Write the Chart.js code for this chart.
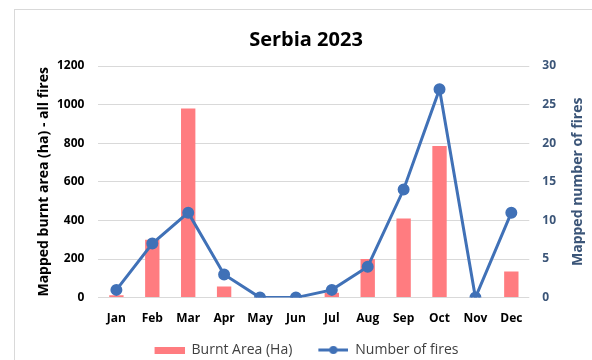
<!DOCTYPE html>
<html>
<head>
<meta charset="utf-8">
<script src="https://cdn.jsdelivr.net/npm/chart.js@4/dist/chart.umd.min.js"></script>
<style>
	html, body { margin: 0; padding: 0; background: #fff; }
	#frame { position: absolute; left: 14px; top: 9px; width: 600px; height: 360px; border: 1px solid #d9d9d9; }
	#wrap { position: absolute; left: 0; top: 0; width: 592px; height: 360px; }
</style>
</head>
<body>
<div id="frame"></div>
<div id="wrap"><canvas id="chart-serbia"></canvas></div>
<script>
// Data
const MONTHS = ["Jan", "Feb", "Mar", "Apr", "May", "Jun", "Jul", "Aug", "Sep", "Oct", "Nov", "Dec"];
const BURNT_AREA = [12, 300, 980, 58, 0, 0, 25, 200, 410, 785, 0, 135];
const FIRES = [1, 7, 11, 3, 0, 0, 1, 4, 14, 27, 0, 11];

const RED = "#ff7c80";
const BLUE = "#4071b7";
const AXIS_BLUE = "#3b5578";
const FONT = "'Open Sans', 'Noto Sans', sans-serif";
const LEFT_TITLE = "Mapped burnt area (ha) - all fires";
const RIGHT_TITLE = "Mapped number of fires";

// Legend swatches (transparent lead-in gives the gap between items)
const SWATCH_W = 53;
const barSwatch = document.createElement("canvas");
barSwatch.width = SWATCH_W;
barSwatch.height = 7;
(() => {
	const c = barSwatch.getContext("2d");
	c.fillStyle = RED;
	c.fillRect(23, 0, 30, 7);
})();

const lineSwatch = document.createElement("canvas");
lineSwatch.width = SWATCH_W;
lineSwatch.height = 10;
(() => {
	const c = lineSwatch.getContext("2d");
	c.strokeStyle = BLUE;
	c.lineWidth = 3;
	c.beginPath();
	c.moveTo(23, 5);
	c.lineTo(53, 5);
	c.stroke();
	c.fillStyle = BLUE;
	c.beginPath();
	c.arc(38, 5, 4, 0, Math.PI * 2);
	c.fill();
})();

// Axis titles, both reading bottom-to-top; legend nudged into place
const axisTitles = {
	id: "axisTitles",
	afterLayout(chart) {
		if (chart.legend) {
			chart.legend.top += 7;
			chart.legend.left -= 11;
			chart.legend.right -= 11;
		}
	},
	afterDraw(chart) {
		const { ctx, chartArea } = chart;
		const midY = (chartArea.top + chartArea.bottom) / 2;
		const draw = (text, x, color) => {
			ctx.save();
			ctx.translate(x, midY);
			ctx.rotate(-Math.PI / 2);
			ctx.fillStyle = color;
			ctx.font = "bold 14px " + FONT;
			ctx.textAlign = "center";
			ctx.textBaseline = "middle";
			ctx.fillText(text, 0, 0);
			ctx.restore();
		};
		draw(LEFT_TITLE, 44, "#000");
		draw(RIGHT_TITLE, 578, AXIS_BLUE);
	},
};

const CHART_DATA = {
	labels: MONTHS,
	datasets: [
		{
			type: "line",
			label: "Number of fires",
			data: FIRES,
			yAxisID: "y1",
			borderColor: BLUE,
			backgroundColor: BLUE,
			borderWidth: 3,
			pointRadius: 4.5,
			pointBackgroundColor: BLUE,
			pointBorderColor: BLUE,
			tension: 0,
			order: 0,
		},
		{
			type: "bar",
			label: "Burnt Area (Ha)",
			data: BURNT_AREA,
			yAxisID: "y",
			backgroundColor: RED,
			barPercentage: 0.4,
			categoryPercentage: 1,
			order: 1,
		},
	],
};

const CHART_CONFIG = {
	data: CHART_DATA,
	plugins: [axisTitles],
	options: {
		responsive: true,
		maintainAspectRatio: false,
		animation: false,
		layout: {
			padding: { left: 43, right: 23, top: 28, bottom: 0 },
		},
		scales: {
			x: {
				border: { display: false },
				grid: { display: false },
				ticks: {
					color: "#000",
					font: { family: FONT, size: 12, weight: "bold" },
					padding: 6,
				},
				afterFit: (scale) => {
					scale.height += 1;
				},
			},
			y: {
				position: "left",
				min: 0,
				max: 1200,
				border: { display: false },
				grid: { color: "#d9d9d9", drawTicks: false },
				ticks: {
					stepSize: 200,
					color: "#000",
					padding: 14,
					font: { family: FONT, size: 12, weight: "bold" },
					callback: (value) => String(value),
				},
			},
			y1: {
				position: "right",
				min: 0,
				max: 30,
				border: { display: false },
				grid: { display: false, drawTicks: false },
				ticks: {
					stepSize: 5,
					color: AXIS_BLUE,
					padding: 13,
					font: { family: FONT, size: 12, weight: "bold" },
				},
			},
		},
		plugins: {
			title: {
				display: true,
				text: "Serbia 2023",
				color: "#000",
				font: { family: FONT, size: 20, weight: "bold" },
				padding: { top: 0, bottom: 14 },
			},
			legend: {
				position: "bottom",
				reverse: true,
				labels: {
					usePointStyle: true,
					pointStyleWidth: SWATCH_W,
					color: "#404040",
					padding: 3,
					font: { family: FONT, size: 14 },
					generateLabels: (chart) => {
						const items = Chart.defaults.plugins.legend.labels.generateLabels(chart);
						return items.map((item) => {
							item.pointStyle = item.text === "Number of fires" ? lineSwatch : barSwatch;
							return item;
						});
					},
				},
			},
			tooltip: { enabled: false },
		},
	},
};

const CHART_WRAPPER = document.getElementById("chart-serbia");
if (CHART_WRAPPER) {
	new Chart(CHART_WRAPPER, CHART_CONFIG);
}
</script>
</body>
</html>
